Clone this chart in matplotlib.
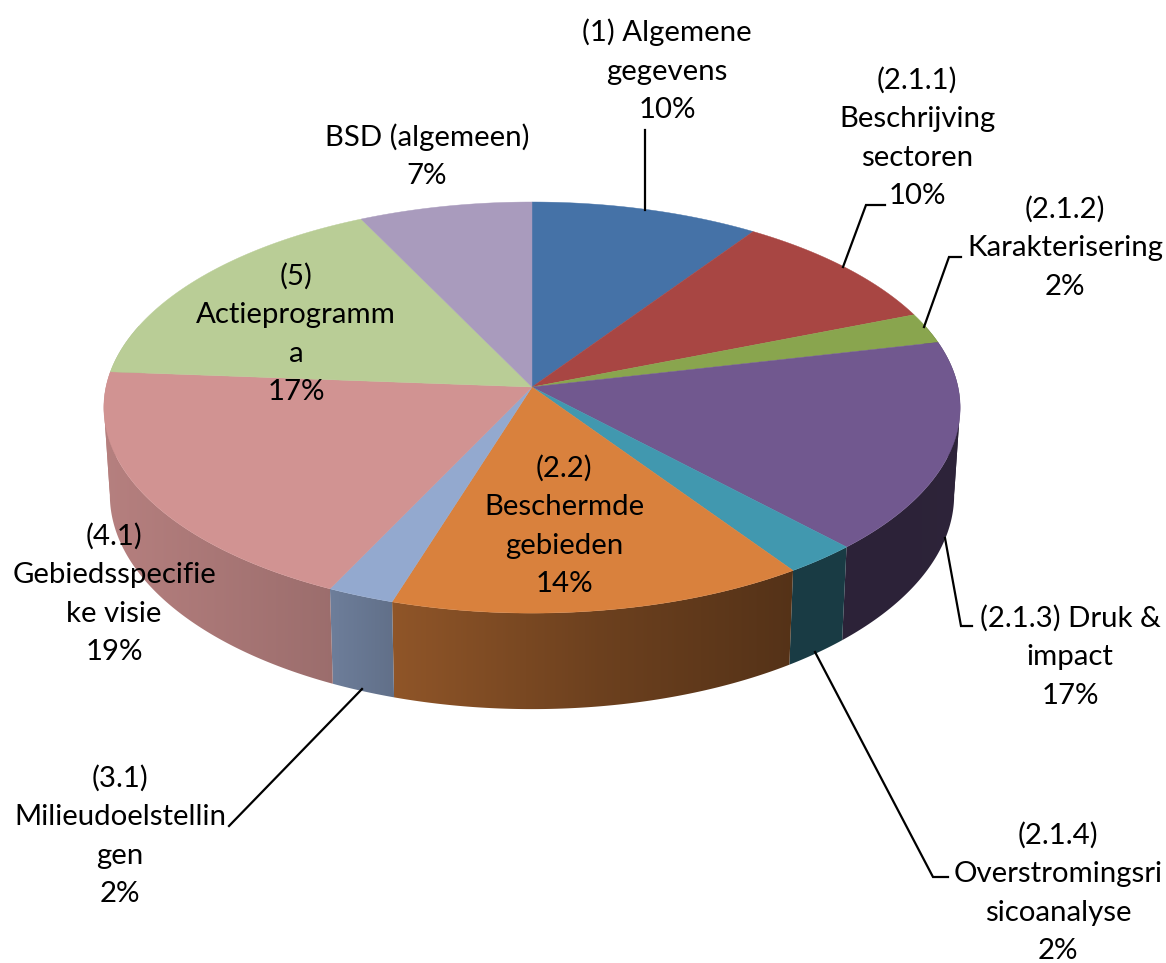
"""3D taartdiagram: aandeel per hoofdstuk."""
import numpy as np
import matplotlib
matplotlib.use('Agg')
import matplotlib.pyplot as plt
from matplotlib.patches import Polygon

plt.rcParams['font.family'] = ['Lato', 'DejaVu Sans']

# slice sizes, clockwise from 12 o'clock
values = [9.5, 9.5, 2.4, 16.6, 2.5, 14.3, 2.3, 19.1, 16.6, 7.2]
names = [
    '(1) Algemene\ngegevens',
    '(2.1.1)\nBeschrijving\nsectoren',
    '(2.1.2)\nKarakterisering',
    '(2.1.3) Druk &\nimpact',
    '(2.1.4)\nOverstromingsri\nsicoanalyse',
    '(2.2)\nBeschermde\ngebieden',
    '(3.1)\nMilieudoelstellin\ngen',
    '(4.1)\nGebiedsspecifie\nke visie',
    '(5)\nActieprogramm\na',
    'BSD (algemeen)',
]
percents = ['10%', '10%', '2%', '17%', '2%', '14%', '2%', '19%', '17%', '7%']

top_colors = ['#4572A7', '#A84643', '#89A54E', '#71588F', '#4198AF',
              '#D9813D', '#93A9CF', '#D19392', '#B9CD96', '#A99BBD']

# label centre (px)
label_pos = [(667, 71), (917, 138), (1065, 248), (1070, 657), (1058, 893),
             (564, 526), (120, 836), (114, 594), (296, 334), (427, 156)]
# leader lines (px), None = no line
leaders = [
    [(645, 130), (645, 210)],
    [(885, 205), (866, 205), (843, 267)],
    [(961, 257), (949, 257), (924, 327)],
    [(972, 626), (961, 626), (945, 538)],
    [(948, 877), (933, 877), (815, 652)],
    None,
    [(229, 826), (362, 689)],
    None,
    None,
    None,
]

# projection of the disc
CX, CY = 532, 387
R, H = 426, 203.5
K = 0.1             # perspective
DEPTH = 86.4
BOTTOM_SCALE = 0.986

# side shading vs x (px)
SHADE_X = [104, 331, 395, 600, 792, 960]
SHADE_F = [0.87, 0.745, 0.66, 0.50, 0.39, 0.40]
WIDTH, HEIGHT = 1166, 963


def project(theta, bottom=False):
    """theta [rad] clockwise from the back of the disc -> pixel coords."""
    u, v = np.sin(theta), np.cos(theta)
    s = 1.0 / (1.0 + K * v)
    if bottom:
        return CX + R * u * s * BOTTOM_SCALE, CY - H * v * s + DEPTH * s
    return CX + R * u * s, CY - H * v * s


fig = plt.figure(figsize=(WIDTH / 100, HEIGHT / 100), dpi=100)
ax = fig.add_axes([0, 0, 1, 1])
ax.set_xlim(0, WIDTH)
ax.set_ylim(HEIGHT, 0)
ax.axis('off')

edges = np.cumsum([0] + values) / sum(values) * 2 * np.pi
shade = np.interp(np.arange(WIDTH) + 0.5, SHADE_X, SHADE_F)

# side wall: one horizontal gradient per piece, clipped to its wall.
# pieces are split where the rim turns back, else the clip polygon folds
side_lo, side_hi = np.radians(72), np.radians(288)
folds = [np.pi / 2 + np.arcsin(K), 3 * np.pi / 2 - np.arcsin(K)]
for i in range(len(values)):
    a, b = max(edges[i], side_lo), min(edges[i + 1], side_hi)
    if a >= b:
        continue
    cuts = [a] + [f for f in folds if a < f < b] + [b]
    rgb = np.array(matplotlib.colors.to_rgb(top_colors[i]))
    grad = (shade[:, None] * rgb)[None, :, :]
    for c0, c1 in zip(cuts[:-1], cuts[1:]):
        th = np.linspace(c0, c1, 200)
        xt, yt = project(th)
        xb, yb = project(th, bottom=True)
        poly = Polygon(np.c_[np.r_[xt, xb[::-1]], np.r_[yt, yb[::-1]]],
                       closed=True, transform=ax.transData)
        im = ax.imshow(grad, extent=[0, WIDTH, HEIGHT, 0], aspect='auto',
                       interpolation='nearest', zorder=1)
        im.set_clip_path(poly)
ax.set_xlim(0, WIDTH)
ax.set_ylim(HEIGHT, 0)

# top face
for i in range(len(values)):
    th = np.linspace(edges[i], edges[i + 1], 200)
    xs, ys = project(th)
    ax.fill(np.r_[CX, xs], np.r_[CY, ys], facecolor=top_colors[i],
            edgecolor=top_colors[i], lw=0.3, zorder=2)

# leaders + labels
for line in leaders:
    if line is not None:
        xs, ys = zip(*line)
        ax.plot(xs, ys, color='black', lw=1.6, zorder=3,
                solid_joinstyle='miter')

for name, pct, (x, y) in zip(names, percents, label_pos):
    ax.text(x, y, f'{name}\n{pct}', ha='center', va='center', fontsize=21.2,
            linespacing=1.59, color='black', zorder=4)

fig.savefig('out.png', dpi=100, facecolor='white')
